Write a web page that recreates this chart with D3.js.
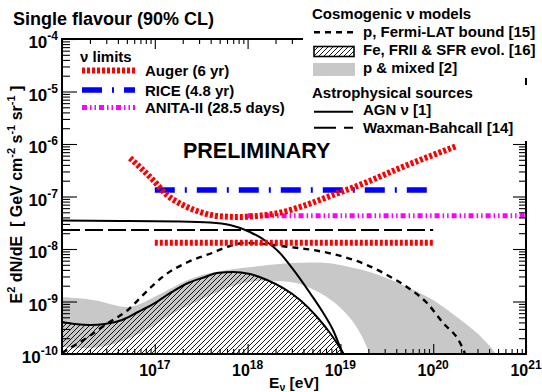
<!DOCTYPE html>
<html>
<head>
<meta charset="utf-8">
<script src="https://cdn.jsdelivr.net/npm/d3@7"></script>
<style>
  body { margin: 0; background: #fff; }
  svg { display: block; font-family: "Liberation Sans", Arial, Helvetica, sans-serif; font-weight: bold; }
</style>
</head>
<body>
<svg id="chart" width="542" height="392"></svg>
<script>
// Neutrino energy E in eV, flux E^2 dN/dE in GeV cm^-2 s^-1 sr^-1

// Auger (6 yr) differential limit
const augerDiff = [
  [5.41e16, 5.41e-7], [9.57e16, 2.06e-7], [1.35e17, 1.07e-7], [2.01e17, 6.89e-8],
  [3.07e17, 5.07e-8], [4.68e17, 4.26e-8], [7.69e17, 4.07e-8], [1.26e18, 4.26e-8],
  [2.40e18, 5.07e-8], [3.67e18, 6.31e-8], [8.32e18, 1.07e-7], [1.94e19, 1.89e-7],
  [4.39e19, 3.49e-7], [9.95e19, 6.17e-7], [1.80e20, 9.16e-7]
];
// Auger (6 yr) integrated limit
const augerInt = [[1e17, 1.32e-8], [1e20, 1.32e-8]];
// RICE (4.8 yr)
const rice = [[1e17, 1.33e-7], [8.6e19, 1.33e-7]];
// ANITA-II (28.5 days)
const anita = [[1e18, 4.3e-8], [1e21, 4.3e-8]];
// Waxman-Bahcall bound
const waxmanBahcall = [[1e16, 2.3e-8], [1e20, 2.3e-8]];
// AGN nu
const agn = [
  [1e16, 3.49e-8], [4.22e16, 3.41e-8], [1.87e17, 3.34e-8], [3.94e17, 3.20e-8],
  [6.46e17, 2.86e-8], [1.06e18, 2.11e-8], [1.62e18, 1.36e-8], [2.23e18, 8.39e-9],
  [3.01e18, 4.35e-9], [4.70e18, 1.45e-9], [6.34e18, 6.59e-10], [8.32e18, 2.86e-10],
  [1.07e19, 1.0e-10], [1.21e19, 6.5e-11]
];
// p, Fermi-LAT bound
const fermi = [
  [1e16, 1.05e-10], [1.91e16, 2.11e-10], [3.13e16, 3.89e-10], [5.14e16, 6.89e-10],
  [7.83e16, 1.45e-9], [1.29e17, 3.20e-9], [2.28e17, 5.65e-9], [4.13e17, 8.39e-9],
  [6.46e17, 1.14e-8], [9.38e17, 1.30e-8], [1.54e18, 1.24e-8], [2.86e18, 1.09e-8],
  [5.07e18, 9.57e-9], [8.32e18, 8.04e-9], [1.94e19, 4.95e-9], [3.18e19, 3.20e-9],
  [5.22e19, 1.89e-9], [8.57e19, 9.35e-10], [1.28e20, 3.89e-10], [1.95e20, 1.62e-10],
  [2.20e20, 1.0e-10], [2.34e20, 6.3e-11]
];
// Fe, FRII & SFR evolution
const feFRII = [
  [1e16, 4.07e-10], [1.38e16, 3.72e-10], [2.00e16, 3.56e-10], [2.90e16, 3.72e-10],
  [4.44e16, 4.45e-10], [6.59e16, 6.31e-10], [1.00e17, 9.35e-10], [1.53e17, 1.52e-9],
  [2.28e17, 2.25e-9], [3.48e17, 2.93e-9], [4.68e17, 3.49e-9], [6.97e17, 3.65e-9],
  [1.06e18, 3.34e-9], [1.62e18, 2.57e-9], [2.40e18, 1.81e-9], [3.67e18, 1.07e-9],
  [5.60e18, 5.07e-10], [7.73e18, 2.51e-10], [9.91e18, 1.30e-10], [1.12e19, 9.1e-11]
];
// p & mixed band: upper and lower edges
const mixedUpper = [
  [1e16, 1.22e-9], [2.16e16, 1.07e-9], [5.01e16, 7.85e-10], [6.93e16, 8.95e-10],
  [1.14e17, 1.39e-9], [2.58e17, 2.81e-9], [6.00e17, 3.98e-9], [1.36e18, 4.74e-9],
  [3.08e18, 5.41e-9], [7.18e18, 5.41e-9], [1.12e19, 4.74e-9], [2.24e19, 3.49e-9],
  [5.22e19, 1.89e-9], [9.95e19, 1.07e-9], [1.80e20, 5.07e-10], [2.96e20, 2.51e-10],
  [4.41e20, 1.19e-10], [5.1e20, 8.0e-11]
];
const mixedLower = [
  [1e16, 1.36e-10], [2.00e16, 1.30e-10], [3.29e16, 1.48e-10], [5.41e16, 2.02e-10],
  [8.87e16, 3.13e-10], [1.46e17, 5.53e-10], [3.07e17, 1.07e-9], [6.46e17, 1.89e-9],
  [1.20e18, 2.45e-9], [2.23e18, 2.45e-9], [3.67e18, 2.15e-9], [6.03e18, 1.45e-9],
  [8.75e18, 9.35e-10], [1.27e19, 4.85e-10], [1.63e19, 2.51e-10], [2.08e19, 1.0e-10],
  [2.2e19, 8.0e-11]
];

// Axis tick labels (exponents of ten)
const xTickExp = ["16", "17", "18", "19", "20", "21"];
const yTickExp = ["-10", "-9", "-8", "-7", "-6", "-5", "-4"];

const svg = d3.select("#chart");
const frameL = 62, frameR = 526, frameT = 39, frameB = 354;

const x = d3.scaleLog().domain([1e16, 1e21]).range([frameL, frameR]);
const y = d3.scaleLog().domain([1e-10, 1e-4]).range([frameB, frameT]);

const defs = svg.append("defs");
defs.append("clipPath").attr("id", "plotClip")
  .append("rect").attr("x", frameL).attr("y", frameT)
  .attr("width", frameR - frameL).attr("height", frameB - frameT);

const hatch = defs.append("pattern").attr("id", "hatch")
  .attr("patternUnits", "userSpaceOnUse").attr("width", 5).attr("height", 5);
hatch.append("path").attr("d", "M-1,1 l2,-2 M0,5 l5,-5 M4,6 l2,-2")
  .attr("stroke", "#000").attr("stroke-width", 0.9);

svg.append("rect").attr("width", 542).attr("height", 392).attr("fill", "#fff");

const plot = svg.append("g").attr("clip-path", "url(#plotClip)");

const curve = d3.line().x(d => x(d[0])).y(d => y(d[1])).curve(d3.curveMonotoneX);
const smooth = d3.line().x(d => x(d[0])).y(d => y(d[1])).curve(d3.curveCatmullRom.alpha(0.5));
const straight = d3.line().x(d => x(d[0])).y(d => y(d[1]));

// p & mixed band
const upperPath = smooth(mixedUpper);
const lowerPath = smooth(mixedLower.slice().reverse());
plot.append("path")
  .attr("d", upperPath + "L" + lowerPath.slice(1) + "Z")
  .attr("fill", "#c8c8c8");

// Fe, FRII & SFR: hatched area under the curve
const feArea = d3.area().x(d => x(d[0])).y0(frameB + 5).y1(d => y(d[1])).curve(d3.curveMonotoneX);
plot.append("path").attr("d", feArea(feFRII)).attr("fill", "url(#hatch)");
plot.append("path").attr("d", curve(feFRII))
  .attr("fill", "none").attr("stroke", "#000").attr("stroke-width", 2);

// Fermi-LAT bound
plot.append("path").attr("d", curve(fermi))
  .attr("fill", "none").attr("stroke", "#000").attr("stroke-width", 2.4)
  .attr("stroke-dasharray", "6,5");

// AGN
plot.append("path").attr("d", curve(agn))
  .attr("fill", "none").attr("stroke", "#000").attr("stroke-width", 2);

// Waxman-Bahcall
plot.append("path").attr("d", straight(waxmanBahcall))
  .attr("fill", "none").attr("stroke", "#000").attr("stroke-width", 2)
  .attr("stroke-dasharray", "18,5");

// Limits
const riceStyle = { color: "#0000ff", width: 5.5, dash: "20,10,2,10" };
const anitaStyle = { color: "#ff00ff", width: 5, dash: "5,3,1.5,3,1.5,3" };
const augerStyle = { color: "#ff0000", width: 6, dash: "3,2" };

plot.append("path").attr("d", straight(rice))
  .attr("fill", "none").attr("stroke", riceStyle.color).attr("stroke-width", riceStyle.width)
  .attr("stroke-dasharray", riceStyle.dash);
plot.append("path").attr("d", straight(anita))
  .attr("fill", "none").attr("stroke", anitaStyle.color).attr("stroke-width", anitaStyle.width)
  .attr("stroke-dasharray", anitaStyle.dash);
plot.append("path").attr("d", straight(augerInt))
  .attr("fill", "none").attr("stroke", augerStyle.color).attr("stroke-width", augerStyle.width)
  .attr("stroke-dasharray", augerStyle.dash);
plot.append("path").attr("d", curve(augerDiff))
  .attr("fill", "none").attr("stroke", augerStyle.color).attr("stroke-width", augerStyle.width)
  .attr("stroke-dasharray", augerStyle.dash);

// Axes: log ticks, major at each decade
const isMajor = v => Math.abs(Math.log10(v) - Math.round(Math.log10(v))) < 1e-9;
const xTicks = x.ticks(), yTicks = y.ticks();
const xMajor = xTicks.filter(isMajor), xMinor = xTicks.filter(v => !isMajor(v));
const yMajor = yTicks.filter(isMajor), yMinor = yTicks.filter(v => !isMajor(v));

function ticks(axisFn, scale, values, size, tx, ty) {
  const g = svg.append("g").attr("transform", `translate(${tx},${ty})`)
    .call(axisFn(scale).tickValues(values).tickSize(size).tickSizeOuter(0).tickFormat(""));
  g.select(".domain").remove();
  g.selectAll("line").attr("stroke", "#000").attr("stroke-width", 1.1);
}
ticks(d3.axisLeft, y, yMajor, -15, frameL, 0);
ticks(d3.axisLeft, y, yMinor, -8, frameL, 0);
ticks(d3.axisRight, y, yMajor, -13, frameR, 0);
ticks(d3.axisRight, y, yMinor, -7, frameR, 0);
ticks(d3.axisBottom, x, xMajor, -10, 0, frameB);
ticks(d3.axisBottom, x, xMinor, -5, 0, frameB);
ticks(d3.axisTop, x, xMajor, -10, 0, frameT);
ticks(d3.axisTop, x, xMinor, -5, 0, frameT);

svg.append("rect").attr("x", frameL).attr("y", frameT)
  .attr("width", frameR - frameL).attr("height", frameB - frameT)
  .attr("fill", "none").attr("stroke", "#000").attr("stroke-width", 2);

// Tick labels
yMajor.forEach((v, i) => {
  const t = svg.append("text").attr("x", 58).attr("y", y(v) + 9)
    .attr("text-anchor", "end").attr("font-size", 17);
  t.append("tspan").text("10");
  t.append("tspan").attr("dy", -8).attr("font-size", 12).text(yTickExp[i]);
});
xMajor.forEach((v, i) => {
  if (i === 0) return;
  const t = svg.append("text").attr("x", x(v)).attr("y", 376)
    .attr("text-anchor", "middle").attr("font-size", 16);
  t.append("tspan").text("10");
  t.append("tspan").attr("dy", -7).attr("font-size", 12).text(xTickExp[i]);
});

// Axis titles
const xt = svg.append("text").attr("x", 294).attr("y", 387.5)
  .attr("text-anchor", "middle").attr("font-size", 15.5);
xt.append("tspan").text("E");
xt.append("tspan").attr("dy", 3).attr("font-size", 10.5).text("\u03bd");
xt.append("tspan").attr("dy", -3).text(" [eV]");

const yt = svg.append("text").attr("transform", "translate(22,194.5) rotate(-90)")
  .attr("text-anchor", "middle").attr("font-size", 16);
yt.append("tspan").text("E");
yt.append("tspan").attr("dy", -7).attr("font-size", 11).text("2");
yt.append("tspan").attr("dy", 7).text(" dN/dE\u00a0\u00a0[ GeV cm");
yt.append("tspan").attr("dy", -7).attr("font-size", 11).text("-2");
yt.append("tspan").attr("dy", 7).text(" s");
yt.append("tspan").attr("dy", -7).attr("font-size", 11).text("-1");
yt.append("tspan").attr("dy", 7).text(" sr");
yt.append("tspan").attr("dy", -7).attr("font-size", 11).text("-1");
yt.append("tspan").attr("dy", 7).text(" ]");

// Title and watermark
svg.append("text").attr("x", 13).attr("y", 25).attr("font-size", 18)
  .text("Single flavour (90% CL)");
svg.append("text").attr("x", 183).attr("y", 158).attr("font-size", 21.5)
  .text("PRELIMINARY");

// Legend: neutrino limits
const limitsLegend = [
  { label: "Auger (6 yr)", style: augerStyle, y: 76 },
  { label: "RICE (4.8 yr)", style: riceStyle, y: 95.5 },
  { label: "ANITA-II (28.5 days)", style: anitaStyle, y: 113 }
];
svg.append("text").attr("x", 80).attr("y", 62).attr("font-size", 15).text("\u03bd limits");
limitsLegend.forEach(d => {
  svg.append("line").attr("x1", 82).attr("x2", 135).attr("y1", d.y - 5.5).attr("y2", d.y - 5.5)
    .attr("stroke", d.style.color).attr("stroke-width", d.style.width)
    .attr("stroke-dasharray", d.style.dash);
  svg.append("text").attr("x", 145).attr("y", d.y).attr("font-size", 15).text(d.label);
});

// Legend: cosmogenic models and astrophysical sources
svg.append("rect").attr("x", 303).attr("y", 0).attr("width", 239).attr("height", 78).attr("fill", "#fff");
svg.append("rect").attr("x", 303).attr("y", 85).attr("width", 239).attr("height", 56).attr("fill", "#fff");

svg.append("text").attr("x", 312).attr("y", 19).attr("font-size", 15).text("Cosmogenic \u03bd models");
svg.append("line").attr("x1", 314).attr("x2", 353).attr("y1", 32.3).attr("y2", 32.3)
  .attr("stroke", "#000").attr("stroke-width", 2.4).attr("stroke-dasharray", "6,5");
svg.append("text").attr("x", 363).attr("y", 36.7).attr("font-size", 15).text("p, Fermi-LAT bound [15]");

svg.append("rect").attr("x", 314).attr("y", 46.5).attr("width", 40).attr("height", 10)
  .attr("fill", "url(#hatch)").attr("stroke", "#000").attr("stroke-width", 1.6);
svg.append("text").attr("x", 363).attr("y", 55).attr("font-size", 15).text("Fe, FRII & SFR evol. [16]");

svg.append("rect").attr("x", 313).attr("y", 63).attr("width", 42).attr("height", 13)
  .attr("fill", "#c8c8c8");
svg.append("text").attr("x", 363).attr("y", 73.3).attr("font-size", 15).text("p & mixed [2]");

svg.append("text").attr("x", 312).attr("y", 98).attr("font-size", 15).text("Astrophysical sources");
svg.append("line").attr("x1", 314).attr("x2", 353).attr("y1", 111.7).attr("y2", 111.7)
  .attr("stroke", "#000").attr("stroke-width", 2);
svg.append("text").attr("x", 363).attr("y", 115).attr("font-size", 15).text("AGN \u03bd [1]");
svg.append("line").attr("x1", 314).attr("x2", 353).attr("y1", 127.7).attr("y2", 127.7)
  .attr("stroke", "#000").attr("stroke-width", 2).attr("stroke-dasharray", "22,8");
svg.append("text").attr("x", 363).attr("y", 133).attr("font-size", 15).text("Waxman-Bahcall [14]");
</script>
</body>
</html>
